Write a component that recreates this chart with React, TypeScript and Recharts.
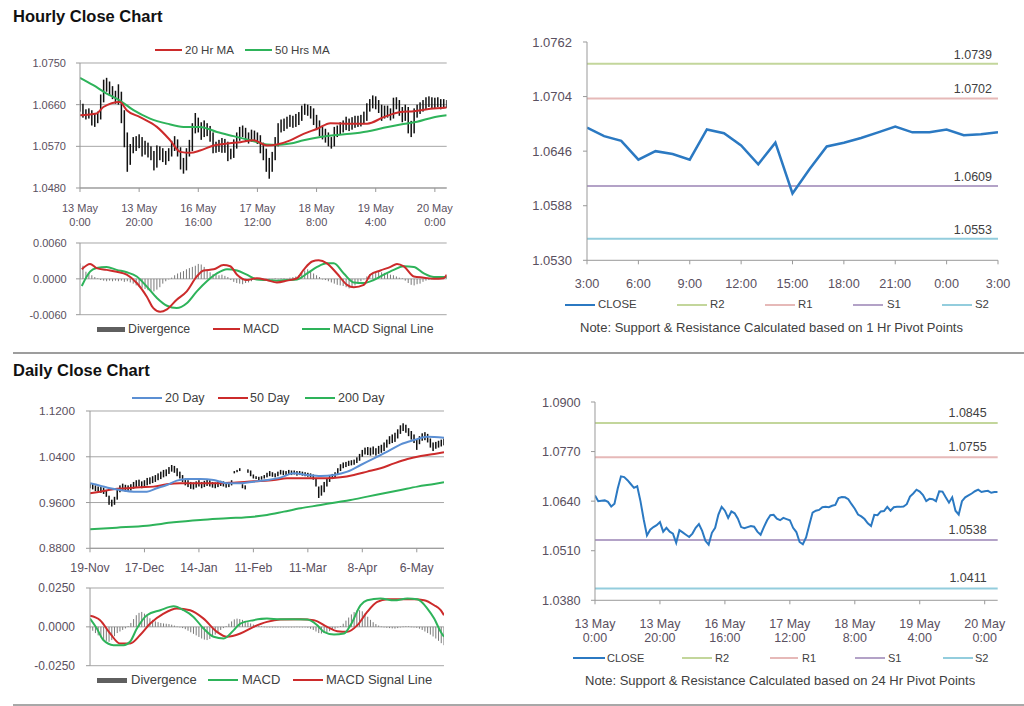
import React from "react";
import { ComposedChart, Line, Bar, XAxis, YAxis, CartesianGrid, ReferenceLine } from "recharts";

// ---------------- DATA ----------------
type Pt = [number, number];

// Hourly chart (13 May 0:00 .. 20 May ~4:00, trading hours)
const hourlyTickPos = [0, 20, 40, 60, 80, 100, 120];
const hourlyTickDay = ["13 May", "13 May", "16 May", "17 May", "18 May", "19 May", "20 May"];
const hourlyTickTime = ["0:00", "20:00", "16:00", "12:00", "8:00", "4:00", "0:00"];
const hourlyYTicks = [1.048, 1.057, 1.066, 1.075];

const hourlyLow = [
  1.0645, 1.0632, 1.0628, 1.063, 1.0615, 1.0612, 1.062, 1.0628, 1.0665, 1.0688,
  1.068, 1.0672, 1.0662, 1.066, 1.062, 1.0568, 1.0515, 1.053, 1.0555, 1.056,
  1.0566, 1.0548, 1.0552, 1.0546, 1.054, 1.0518, 1.0524, 1.054, 1.0536, 1.053,
  1.0538, 1.0548, 1.056, 1.0548, 1.052, 1.0511, 1.0518, 1.0548, 1.056, 1.0598,
  1.06, 1.0584, 1.059, 1.0592, 1.058, 1.0555, 1.0556, 1.0558, 1.0556, 1.0556,
  1.0538, 1.0542, 1.0545, 1.0565, 1.0582, 1.059, 1.058, 1.0576, 1.058, 1.058,
  1.0575, 1.0555, 1.054, 1.0515, 1.05, 1.0515, 1.054, 1.057, 1.06, 1.0603,
  1.0608, 1.0612, 1.061, 1.0612, 1.0616, 1.0625, 1.0638, 1.0636, 1.063, 1.0616,
  1.0605, 1.0592, 1.0585, 1.0578, 1.057, 1.0565, 1.057, 1.059, 1.0595, 1.06,
  1.0605, 1.0603, 1.0606, 1.061, 1.0612, 1.0613, 1.0618, 1.0625, 1.0645, 1.0652,
  1.065, 1.0642, 1.0625, 1.063, 1.0632, 1.0626, 1.063, 1.065, 1.0636, 1.0622,
  1.0625, 1.0598, 1.059, 1.0598, 1.0632, 1.064, 1.0645, 1.065, 1.0655, 1.0652,
  1.0652, 1.0655, 1.065, 1.0652, 1.0653,
];
const hourlyHigh = [
  1.067, 1.0662, 1.065, 1.0652, 1.0648, 1.064, 1.0645, 1.0682, 1.0714, 1.0718,
  1.071, 1.07, 1.069, 1.0704, 1.0688, 1.0648, 1.06, 1.0575, 1.059, 1.0592,
  1.0596, 1.059, 1.0582, 1.0578, 1.057, 1.056, 1.0572, 1.057, 1.0566, 1.056,
  1.0566, 1.0582, 1.0592, 1.0585, 1.0568, 1.0545, 1.0566, 1.0584, 1.062, 1.0642,
  1.0632, 1.0622, 1.0626, 1.062, 1.0614, 1.06, 1.058, 1.0584, 1.0588, 1.0586,
  1.058, 1.0565, 1.0585, 1.06, 1.0612, 1.0615, 1.061, 1.06, 1.0606, 1.0604,
  1.06, 1.0594, 1.0578, 1.0565, 1.0545, 1.0558, 1.059, 1.062, 1.0628, 1.063,
  1.0634, 1.0638, 1.0636, 1.064, 1.0644, 1.0658, 1.0662, 1.066, 1.0657, 1.0652,
  1.0638, 1.0626, 1.0612, 1.0608, 1.06, 1.059, 1.0612, 1.0615, 1.0622, 1.0626,
  1.0634, 1.063, 1.0633, 1.0636, 1.0636, 1.0638, 1.0645, 1.0663, 1.0672, 1.068,
  1.0678, 1.067, 1.066, 1.0658, 1.0658, 1.0652, 1.0675, 1.0676, 1.067, 1.0655,
  1.066, 1.0655, 1.0625, 1.0652, 1.066, 1.0665, 1.067, 1.0676, 1.0678, 1.0676,
  1.0675, 1.0676, 1.0672, 1.0672, 1.067,
];
const ma20Hr: Pt[] = [
  [0, 1.0637], [5.6, 1.0641], [7.9, 1.0655], [13.5, 1.0666], [15.8, 1.0648], [20.3, 1.0633],
  [26, 1.0612], [30.5, 1.0583], [33.9, 1.0558], [37.3, 1.0556], [40.6, 1.0561], [45.2, 1.0572],
  [49.7, 1.0576], [54.2, 1.0579], [58.7, 1.0583], [63.2, 1.0572], [66.6, 1.0574], [71.1, 1.0583],
  [75.6, 1.0597], [80.2, 1.0608], [84.7, 1.062], [91.4, 1.0619], [97.1, 1.0619], [102.7, 1.0633],
  [108.4, 1.0644], [112.9, 1.0646], [118.5, 1.0651], [124, 1.0654],
];
const ma50Hr: Pt[] = [
  [0, 1.0718], [4.5, 1.0702], [9, 1.0684], [13.5, 1.0669], [18.1, 1.0648], [23.7, 1.063],
  [29.4, 1.0619], [35, 1.0612], [40.6, 1.0612], [46.3, 1.0601], [51.9, 1.0592], [57.6, 1.0583],
  [63.2, 1.0574], [66.6, 1.0573], [71.1, 1.0576], [75.6, 1.0583], [81.3, 1.059], [85.8, 1.0594],
  [91.4, 1.0597], [97.1, 1.0602], [102.7, 1.061], [108.4, 1.0617], [114, 1.0623], [119.7, 1.0633],
  [124, 1.0637],
];

// Hourly MACD
const hrMacdYTicks = [-0.006, 0, 0.006];
const hrMacd: Pt[] = [
  [0.6, 0.0016], [3.4, 0.0025], [5.6, 0.0018], [9, 0.0015], [12.4, 0.0012], [15.8, 0.0007],
  [19.2, -0.0007], [22.6, -0.003], [24.8, -0.0049], [27.1, -0.0055], [29.4, -0.0051], [32.7, -0.0035],
  [36.1, -0.0021], [39.5, 0.0004], [41.8, 0.0014], [45.2, 0.0016], [48.5, 0.0023], [50.8, 0.0021],
  [53.1, 0.0007], [56.4, -0.0002], [59.8, 0.0001], [63.2, -0.0002], [66.6, -0.0006], [70, -0.0003],
  [73.4, 0.0001], [75.6, 0.0015], [78.5, 0.0029], [80.7, 0.0031], [83.5, 0.0026], [86.9, 0.0009],
  [90.3, -0.001], [92.6, -0.0014], [96, -0.001], [98.2, 0.0007], [101.6, 0.0014], [105, 0.002],
  [107.2, 0.0025], [109.5, 0.0021], [112.9, 0.0004], [116.3, 0.0002], [119.7, 0.0], [123, 0.0001],
  [124, 0.0007],
];
const hrSignal: Pt[] = [
  [0.6, -0.0012], [3.4, 0.0012], [5.6, 0.0018], [9, 0.002], [12.4, 0.0015], [15.8, 0.0011],
  [19.2, 0.0004], [22.6, -0.0013], [26, -0.0032], [29.4, -0.0045], [32.7, -0.0049], [36.1, -0.0041],
  [39.5, -0.0021], [42.9, -0.0004], [46.3, 0.0009], [49.7, 0.0016], [53.1, 0.0014], [56.4, 0.0007],
  [59.8, -0.0001], [63.2, -0.0002], [66.6, -0.0003], [70, -0.0002], [73.4, -0.0001], [76.8, 0.0009],
  [80.2, 0.002], [83.5, 0.0026], [85.8, 0.0026], [89.2, 0.0009], [92.6, -0.0006], [96, -0.0007],
  [99.3, -0.0002], [102.7, 0.0007], [106.1, 0.0015], [109.5, 0.0021], [112.9, 0.002], [116.3, 0.0009],
  [119.7, 0.0003], [124, 0.0003],
];
const hrDivergence = [
  0.0026, 0.0022, 0.0012, 0.001, 0.0006, 0.0003, 0.0001, -0.0002, -0.0003, -0.0004,
  -0.0003, -0.0004, -0.0003, -0.0004, -0.0003, -0.0005, -0.0004, -0.0006, -0.0008, -0.0011,
  -0.0013, -0.0015, -0.0017, -0.0019, -0.002, -0.0021, -0.0018, -0.0014, -0.0008, -0.0004,
  -0.0001, 0.0002, 0.0006, 0.0009, 0.0011, 0.0013, 0.0016, 0.0018, 0.002, 0.0022,
  0.0025, 0.0024, 0.002, 0.0014, 0.0011, 0.0008, 0.0007, 0.0006, 0.0007, 0.0005,
  0.0003, -0.0002, -0.0005, -0.0007, -0.0008, -0.0009, -0.0007, -0.0006, -0.0004, -0.0002,
  -0.0001, 0.0, -0.0001, 0.0, -0.0001, 0.0, 0.0001, 0.0, 0.0001, 0.0001,
  0.0, 0.0002, 0.0003, 0.0004, 0.0006, 0.001, 0.0014, 0.0016, 0.0012, 0.0009,
  0.0006, 0.0003, 0.0, -0.0002, -0.0004, -0.0006, -0.0008, -0.001, -0.0011, -0.0012,
  -0.0014, -0.0016, -0.0014, -0.0011, -0.0008, -0.0004, 0.0, 0.0004, 0.0008, 0.001,
  0.0011, 0.0012, 0.0011, 0.001, 0.0009, 0.0007, 0.0006, 0.0004, 0.0002, 0.0001,
  -0.0003, -0.0007, -0.001, -0.0011, -0.0009, -0.0008, -0.0005, -0.0003, -0.0002, -0.0001,
  0.0001, 0.0002, 0.0002, 0.0003, 0.0004,
];

// 1 Hr pivot chart
const pivotHourTickPos = [0, 3, 6, 9, 12, 15, 18, 21, 24];
const pivotHourLabels = ["3:00", "6:00", "9:00", "12:00", "15:00", "18:00", "21:00", "0:00", "3:00"];
const pivotHourYTicks = [1.053, 1.0588, 1.0646, 1.0704, 1.0762];
const pivotHourClose = [
  1.0671, 1.0662, 1.0657, 1.0637, 1.0646, 1.0643, 1.0637, 1.0669, 1.0665, 1.0652,
  1.0632, 1.0655, 1.0601, 1.0627, 1.0651, 1.0655, 1.066, 1.0666, 1.0672, 1.0666,
  1.0666, 1.0669, 1.0663, 1.0664, 1.0666,
];
const pivotNames = ["R2", "R1", "S1", "S2"];
const pivot1hValues = [1.0739, 1.0702, 1.0609, 1.0553];
const pivot24hValues = [1.0845, 1.0755, 1.0538, 1.0411];

// Daily chart (19-Nov .. ~20-May)
const dailyTickPos = [0, 20, 40, 60, 80, 100, 120];
const dailyTickLabels = ["19-Nov", "17-Dec", "14-Jan", "11-Feb", "11-Mar", "8-Apr", "6-May"];
const dailyYTicks = [0.88, 0.96, 1.04, 1.12];
const dailyLow = [
  0.985, 0.983, 0.98, 0.979, 0.977, 0.975, 0.97, 0.956, 0.953, 0.956,
  0.965, 0.978, 0.982, 0.979, 0.98, 0.981, 0.984, 0.986, 0.988, 0.985,
  0.987, 0.99, 0.992, 0.994, 0.996, 0.999, 1.001, 1.004, 1.006, 1.01,
  1.014, 1.012, 1.006, 1.002, 0.996, 0.99, 0.987, 0.984, 0.983, 0.986,
  0.988, 0.985, 0.987, 0.989, 0.988, 0.986, 0.985, 0.987, 0.989, 0.988,
  0.986, 0.987, 0.99, 1.011, 1.013, 1.015, 0.985, 0.983, 1.012, 1.006,
  1.002, 1.001, 0.999, 1.0, 1.002, 1.004, 1.006, 1.005, 1.004, 1.006,
  1.009, 1.008, 1.007, 1.009, 1.008, 1.009, 1.007, 1.008, 1.007, 1.006,
  1.005, 1.004, 1.0, 0.988, 0.968, 0.972, 0.978, 0.988, 0.996, 1.001,
  1.004, 1.008, 1.015, 1.02, 1.022, 1.024, 1.025, 1.026, 1.029, 1.033,
  1.04, 1.044, 1.043, 1.042, 1.044, 1.042, 1.045, 1.047, 1.05, 1.056,
  1.062, 1.064, 1.066, 1.072, 1.08, 1.085, 1.082, 1.076, 1.07, 1.064,
  1.052, 1.062, 1.068, 1.069, 1.065, 1.056, 1.05, 1.054, 1.056, 1.058,
  1.06,
];
const dailyHigh = [
  0.994, 0.9925, 0.99, 0.988, 0.987, 0.986, 0.982, 0.972, 0.965, 0.97,
  0.984, 0.99, 0.993, 0.991, 0.99, 0.992, 0.996, 0.999, 1.0, 0.997,
  0.999, 1.003, 1.004, 1.006, 1.008, 1.011, 1.014, 1.017, 1.018, 1.022,
  1.0256, 1.024, 1.02, 1.014, 1.008, 1.002, 0.999, 0.996, 0.995, 0.997,
  0.999, 0.996, 0.998, 1.0, 0.999, 0.996, 0.995, 0.996, 0.998, 0.997,
  0.995, 0.996, 0.999, 1.015, 1.017, 1.02, 0.992, 0.99, 1.018, 1.016,
  1.009, 1.006, 1.005, 1.006, 1.008, 1.012, 1.015, 1.013, 1.011, 1.014,
  1.017, 1.016, 1.015, 1.017, 1.016, 1.016, 1.015, 1.015, 1.014, 1.013,
  1.012, 1.011, 1.009, 1.003, 0.988, 0.99, 0.996, 1.003, 1.008, 1.01,
  1.013, 1.02, 1.027, 1.03, 1.031, 1.033, 1.034, 1.035, 1.039, 1.045,
  1.052, 1.056, 1.057, 1.056, 1.058, 1.055, 1.059, 1.061, 1.065, 1.07,
  1.076, 1.079, 1.082, 1.088, 1.095, 1.0985, 1.096, 1.09, 1.085, 1.079,
  1.07, 1.076, 1.081, 1.083, 1.08, 1.072, 1.065, 1.066, 1.068, 1.07,
  1.072,
];
const ma20Day: Pt[] = [
  [0, 0.9936], [3.7, 0.9895], [7.4, 0.9849], [11, 0.9819], [16, 0.979], [20.9, 0.979],
  [24.5, 0.9849], [28.2, 0.9907], [31.9, 0.9983], [35.6, 1.0012], [40.5, 1.0012], [45.4, 0.9994],
  [50.3, 0.9936], [55.2, 0.9936], [60.1, 0.9965], [65, 0.9994], [69.9, 1.0035], [74.8, 1.0111],
  [79.8, 1.0082], [84.7, 1.0064], [89.6, 1.0082], [94.5, 1.014], [99.4, 1.0256], [104.3, 1.0373],
  [109.2, 1.0489], [114.1, 1.0618], [119, 1.0693], [123.9, 1.0751], [130, 1.0734],
];
const ma50Day: Pt[] = [
  [0, 0.9761], [3.7, 0.979], [8.6, 0.9831], [13.5, 0.9849], [18.4, 0.9866], [23.3, 0.9878],
  [28.2, 0.9919], [33.1, 0.9936], [38, 0.9936], [42.9, 0.9936], [47.9, 0.9936], [52.8, 0.9948],
  [57.7, 0.9965], [62.6, 0.9977], [67.5, 0.9994], [72.4, 1.0023], [77.3, 1.0023], [82.2, 1.0023],
  [87.1, 1.0023], [92, 1.0041], [96.9, 1.0082], [101.8, 1.014], [106.7, 1.0198], [111.7, 1.0285],
  [116.6, 1.0361], [121.5, 1.0414], [126.4, 1.0449], [130, 1.0478],
];
const ma200Day: Pt[] = [
  [0, 0.9132], [9.8, 0.9161], [20.9, 0.9196], [30.7, 0.9254], [40.5, 0.9295], [50.3, 0.9324],
  [60.1, 0.9353], [65, 0.9383], [71.2, 0.9441], [77.3, 0.9499], [84.7, 0.9557], [89.6, 0.9598],
  [95.7, 0.9645], [101.8, 0.9703], [108, 0.9761], [114.1, 0.9819], [120.2, 0.9878], [126.4, 0.9924],
  [130, 0.9953],
];

// Daily MACD
const dayMacdYTicks = [-0.025, 0, 0.025];
const dayMacd: Pt[] = [
  [0, 0.0053], [2.5, -0.0011], [4.9, -0.0085], [8.6, -0.0118], [12.3, -0.0118], [14.7, -0.0096],
  [17.2, -0.0011], [20.9, 0.0075], [25.8, 0.0107], [30.7, 0.0132], [34.4, 0.0107], [38, 0.0064],
  [41.7, -0.0011], [45.4, -0.0064], [49.1, -0.0075], [52.8, -0.0021], [55.2, 0.0021], [60.1, 0.0043],
  [65, 0.0053], [69.9, 0.0049], [74.8, 0.0049], [79.8, 0.0047], [83.4, 0.0011], [85.9, -0.0032],
  [89.6, -0.0049], [93.3, -0.0043], [95.7, 0.0011], [99.4, 0.0139], [101.8, 0.0171], [106.7, 0.0182],
  [111.7, 0.0171], [116.6, 0.0182], [120.2, 0.0177], [123.9, 0.0118], [126.4, 0.0053], [128.8, -0.0032],
  [130, -0.0064],
];
const daySignal: Pt[] = [
  [0, 0.0071], [3.7, 0.0043], [7.4, -0.0043], [11, -0.0107], [14.7, -0.0107], [18.4, -0.0053],
  [22.1, 0.0021], [27, 0.0085], [31.9, 0.0118], [36.8, 0.0107], [41.7, 0.0053], [46.6, -0.0032],
  [50.3, -0.0064], [55.2, -0.0043], [60.1, 0.0], [65, 0.0032], [69.9, 0.0047], [77.3, 0.0049],
  [82.2, 0.0043], [87.1, 0.0], [90.8, -0.0028], [94.5, -0.0032], [98.2, 0.0011], [101.8, 0.0096],
  [105.5, 0.016], [109.2, 0.0177], [114.1, 0.0177], [119, 0.0177], [122.7, 0.0171], [126.4, 0.0139],
  [128.8, 0.0107], [130, 0.0075],
];
const dayDivergence = [
  -0.001, -0.0025, -0.004, -0.0055, -0.0068, -0.008, -0.009, -0.0096, -0.0085, -0.006,
  -0.004, -0.003, -0.002, -0.001, 0.0005, 0.0025, 0.005, 0.0075, 0.009, 0.0096,
  0.0085, 0.007, 0.0055, 0.0045, 0.0035, 0.003, 0.0025, 0.0022, 0.002, 0.0018,
  0.0014, 0.0008, 0.0002, -0.0003, -0.0008, -0.0015, -0.0025, -0.0035, -0.0045, -0.0055,
  -0.0065, -0.0075, -0.0082, -0.0085, -0.0078, -0.0065, -0.005, -0.0035, -0.002, -0.0008,
  0.0005, 0.002, 0.0035, 0.0048, 0.0053, 0.005, 0.0045, 0.0038, 0.003, 0.0022,
  0.0015, 0.001, 0.0006, 0.0003, 0.0001, -0.0002, -0.0003, -0.0002, -0.0003, -0.0002,
  -0.0001, -0.0002, -0.0001, 0.0, -0.0002, -0.0001, 0.0001, 0.0, -0.0001, -0.0003,
  -0.0006, -0.0012, -0.002, -0.003, -0.004, -0.0043, -0.004, -0.0035, -0.0028, -0.002,
  -0.0012, -0.0005, 0.0005, 0.002, 0.004, 0.006, 0.008, 0.0095, 0.0105, 0.0107,
  0.01, 0.0085, 0.0065, 0.0045, 0.003, 0.0018, 0.0008, 0.0002, -0.0003, -0.0006,
  -0.0008, -0.001, -0.0011, -0.0008, -0.0004, 0.0002, 0.0004, 0.0003, 0.0001, -0.0002,
  -0.0006, -0.0012, -0.002, -0.003, -0.004, -0.005, -0.0062, -0.0075, -0.009, -0.0105,
  -0.0118,
];

// 24 Hr pivot chart (hourly closes)
const close24YTicks = [1.038, 1.051, 1.064, 1.077, 1.09];
const close24 = [
  1.0655, 1.064, 1.0641, 1.0642, 1.0638, 1.0626, 1.0633, 1.0673, 1.0705, 1.0703,
  1.0695, 1.0685, 1.0675, 1.0679, 1.064, 1.0592, 1.055, 1.0565, 1.0572, 1.0577,
  1.0585, 1.056, 1.057, 1.056, 1.0555, 1.0531, 1.0564, 1.0558, 1.0552, 1.0546,
  1.0555, 1.057, 1.058, 1.0562, 1.0536, 1.0526, 1.0557, 1.057, 1.0605, 1.0625,
  1.0615, 1.0596, 1.0613, 1.0608, 1.0594, 1.0572, 1.0569, 1.0572, 1.0575, 1.0573,
  1.056, 1.0552, 1.0572, 1.059, 1.0603, 1.0604, 1.0594, 1.059, 1.0596, 1.0593,
  1.059, 1.057, 1.0559, 1.0533, 1.0527, 1.0545, 1.0578, 1.061, 1.0615, 1.0617,
  1.0624, 1.0625, 1.0624, 1.0628, 1.063, 1.0648, 1.0651, 1.065, 1.0645, 1.0632,
  1.062, 1.0605, 1.06, 1.0593, 1.0582, 1.0575, 1.0604, 1.0603, 1.0613, 1.0614,
  1.0625, 1.0615, 1.0624, 1.0625, 1.0625, 1.0626, 1.0632, 1.0652, 1.066, 1.067,
  1.0665, 1.0656, 1.064, 1.0646, 1.0645, 1.064, 1.0666, 1.0665, 1.065, 1.0636,
  1.065, 1.0615, 1.0605, 1.064, 1.065, 1.0655, 1.066, 1.0666, 1.067, 1.0664,
  1.0666, 1.0667, 1.0662, 1.0664, 1.0664,
];

// ---------------- STYLE ----------------
const FONT = "'Liberation Sans', Arial, Helvetica, sans-serif";
const TICK = "#5a5060";
const TXT = "#404040";
const AXIS = "#999999";
const GRID = "#a6a6a6";
const RED = "#cc2b2b";
const GREEN = "#2eb35a";
const BLUE20 = "#5b8fd3";
const CLOSE_BLUE = "#2b79c2";
const HIST = "#8a8a8a";
const PIVOT_COLORS = ["#c3d69b", "#e6b9b8", "#b3a2c7", "#93cddd"];

const toPts = (arr: Pt[]) => arr.map(([x, v]) => ({ x, v }));
const f4 = (v: number) => v.toFixed(4);

const PT = 12, PB = 12, PR = 25;
interface Box { l: number; t: number; r: number; b: number; yW: number; xH: number }
function geom(p: Box) {
  return {
    left: p.l - p.yW,
    top: p.t - PT,
    width: p.r - p.l + p.yW + PR,
    height: p.b - p.t + PT + p.xH + PB,
    margin: { top: PT, right: PR, bottom: PB, left: 0 },
    axisY: PT + (p.b - p.t),
  };
}

// thin vertical stick drawn at the centre of the bar slot computed by Recharts
const stickShape = (w: number, color: string) => (props: any) => {
  const { x, y, width, height } = props;
  if ([x, y, width, height].some((n) => typeof n !== "number" || isNaN(n))) return <g />;
  const top = Math.min(y, y + height);
  const h = Math.max(Math.abs(height), 0.6);
  return <rect x={x + width / 2 - w / 2} y={top} width={w} height={h} fill={color} />;
};

const tickLines = (pos: number[], lines: string[][], axisY: number, fs: number, offs: number[]) =>
  (props: any) => {
    const i = pos.indexOf(props.payload?.value);
    if (i < 0) return <g />;
    return (
      <text textAnchor="middle" fontSize={fs} fill={TICK} fontFamily={FONT}>
        {lines.map((ln, k) => (
          <tspan key={k} x={props.x} y={axisY + offs[k]}>{ln[i]}</tspan>
        ))}
      </text>
    );
  };

const pivotLabel = (text: string, dx: number, dy: number, fs: number) => (props: any) => {
  const vb = props?.viewBox;
  if (!vb) return <g />;
  return (
    <text x={vb.x + vb.width - dx} y={vb.y - dy} textAnchor="end" fontSize={fs} fill={TXT} fontFamily={FONT}>
      {text}
    </text>
  );
};

interface LegItem { kind: "line" | "bar"; color: string; x1: number; x2: number; tx: number; text: string }
function HtmlLegend({ items, y, fs }: { items: LegItem[]; y: number; fs: number }) {
  return (
    <>
      {items.map((it) => {
        const h = it.kind === "bar" ? 5 : 2;
        return (
          <React.Fragment key={it.text}>
            <div style={{ position: "absolute", left: it.x1, top: y - h / 2, width: it.x2 - it.x1, height: h, background: it.color }} />
            <div style={{ position: "absolute", left: it.tx, top: y - fs * 0.59, fontSize: fs, lineHeight: fs * 1.2 + "px", color: TXT, whiteSpace: "nowrap" }}>
              {it.text}
            </div>
          </React.Fragment>
        );
      })}
    </>
  );
}

const yTickStyle = (fs: number) => ({ fontSize: fs, fill: TICK, fontFamily: FONT });

export default function App() {
  const hourlyBars = hourlyHigh.map((h, i) => ({ x: i, hl: [hourlyLow[i], h] }));
  const hrHist = hrDivergence.map((d, i) => ({ x: i, d }));
  const pivotHour = pivotHourClose.map((v, i) => ({ x: i, v }));
  const dailyBars = dailyHigh.map((h, i) => ({ x: i, hl: [dailyLow[i], h] }));
  const dayHist = dayDivergence.map((d, i) => ({ x: i, d }));
  const close24Pts = close24.map((v, i) => ({ x: i, v }));

  const g1 = geom({ l: 80, t: 62.7, r: 446.7, b: 187.7, yW: 80, xH: 50 });
  const g2 = geom({ l: 80, t: 243.3, r: 446.7, b: 315, yW: 80, xH: 0 });
  const g3 = geom({ l: 586.7, t: 41.7, r: 997.7, b: 260, yW: 90, xH: 40 });
  const g4 = geom({ l: 90, t: 411, r: 444, b: 548.3, yW: 90, xH: 35 });
  const g5 = geom({ l: 90, t: 588, r: 444, b: 665.7, yW: 90, xH: 0 });
  const g6 = geom({ l: 595, t: 401.7, r: 997.7, b: 600, yW: 90, xH: 55 });

  const pos = (g: any): React.CSSProperties => ({ position: "absolute", left: g.left, top: g.top });
  const axisProps = { axisLine: { stroke: AXIS }, tickLine: { stroke: AXIS }, tickSize: 4 };

  return (
    <div style={{ position: "absolute", left: 0, top: 0, width: 1024, height: 706, background: "#fff", fontFamily: FONT, overflow: "hidden" }}>
      <div style={{ position: "absolute", left: 13, top: 7.7, fontSize: 16.5, lineHeight: "16.5px", fontWeight: "bold", color: "#111" }}>Hourly Close Chart</div>
      <div style={{ position: "absolute", left: 13, top: 361.7, fontSize: 16.5, lineHeight: "16.5px", fontWeight: "bold", color: "#111" }}>Daily Close Chart</div>
      <div style={{ position: "absolute", left: 13, top: 352, width: 1011, height: 1.5, background: "#9d9d9d" }} />
      <div style={{ position: "absolute", left: 13, top: 703.5, width: 1011, height: 2, background: "#a8a8a8" }} />

      {/* Chart 1: hourly bars + MAs */}
      <HtmlLegend y={50} fs={11.6} items={[
        { kind: "line", color: RED, x1: 155, x2: 182, tx: 185, text: "20 Hr MA" },
        { kind: "line", color: GREEN, x1: 245, x2: 272, tx: 275, text: "50 Hrs MA" },
      ]} />
      <div style={pos(g1)}>
        <ComposedChart width={g1.width} height={g1.height} margin={g1.margin} data={hourlyBars}>
          <CartesianGrid vertical={false} stroke={GRID} />
          <XAxis dataKey="x" type="number" domain={[0, 124]} allowDataOverflow ticks={hourlyTickPos} interval={0} height={50} {...axisProps}
            tick={tickLines(hourlyTickPos, [hourlyTickDay, hourlyTickTime], g1.axisY, 11, [24.3, 37.9])} />
          <YAxis type="number" domain={[1.048, 1.075]} allowDataOverflow ticks={hourlyYTicks} interval={0} width={80} tickMargin={10} {...axisProps}
            tick={yTickStyle(11)} tickFormatter={f4} />
          <Bar dataKey="hl" fill="#000" barSize={2} shape={stickShape(1.5, "#111")} isAnimationActive={false} />
          <Line data={toPts(ma50Hr)} dataKey="v" type="monotone" stroke={GREEN} strokeWidth={2} dot={false} isAnimationActive={false} />
          <Line data={toPts(ma20Hr)} dataKey="v" type="monotone" stroke={RED} strokeWidth={2} dot={false} isAnimationActive={false} />
        </ComposedChart>
      </div>

      {/* Chart 2: hourly MACD */}
      <div style={pos(g2)}>
        <ComposedChart width={g2.width} height={g2.height} margin={g2.margin} data={hrHist}>
          <CartesianGrid vertical={false} stroke={GRID} />
          <XAxis dataKey="x" type="number" domain={[0, 124]} allowDataOverflow ticks={hourlyTickPos} hide />
          <YAxis type="number" domain={[-0.006, 0.006]} allowDataOverflow ticks={hrMacdYTicks} interval={0} width={80} tickMargin={9.3} {...axisProps}
            tick={yTickStyle(11)} tickFormatter={f4} />
          <Bar dataKey="d" fill={HIST} barSize={2} shape={stickShape(1, "#7a7a7a")} isAnimationActive={false} />
          <Line data={toPts(hrSignal)} dataKey="v" type="monotone" stroke={GREEN} strokeWidth={2} dot={false} isAnimationActive={false} />
          <Line data={toPts(hrMacd)} dataKey="v" type="monotone" stroke={RED} strokeWidth={2} dot={false} isAnimationActive={false} />
        </ComposedChart>
      </div>
      <HtmlLegend y={329} fs={12.3} items={[
        { kind: "bar", color: "#5f5f5f", x1: 97, x2: 125, tx: 128, text: "Divergence" },
        { kind: "line", color: RED, x1: 213, x2: 240, tx: 243, text: "MACD" },
        { kind: "line", color: GREEN, x1: 302, x2: 330, tx: 333, text: "MACD Signal Line" },
      ]} />

      {/* Chart 3: 1 Hr pivot */}
      <div style={pos(g3)}>
        <ComposedChart width={g3.width} height={g3.height} margin={g3.margin} data={pivotHour}>
          <XAxis dataKey="x" type="number" domain={[0, 24]} allowDataOverflow ticks={pivotHourTickPos} interval={0} height={40} {...axisProps}
            tick={tickLines(pivotHourTickPos, [pivotHourLabels], g3.axisY, 12.7, [27.8])} />
          <YAxis type="number" domain={[1.053, 1.0762]} allowDataOverflow ticks={pivotHourYTicks} interval={0} width={90} tickMargin={11} {...axisProps}
            tick={yTickStyle(13)} tickFormatter={f4} />
          {pivot1hValues.map((v, i) => (
            <ReferenceLine key={pivotNames[i]} y={v} stroke={PIVOT_COLORS[i]} strokeWidth={2} label={pivotLabel(f4(v), 6, 5, 12.5)} />
          ))}
          <Line dataKey="v" type="linear" stroke={CLOSE_BLUE} strokeWidth={2.5} dot={false} isAnimationActive={false} />
        </ComposedChart>
      </div>
      <HtmlLegend y={305} fs={11.4} items={[
        { kind: "line", color: CLOSE_BLUE, x1: 565, x2: 595, tx: 598, text: "CLOSE" },
        { kind: "line", color: PIVOT_COLORS[0], x1: 677, x2: 707, tx: 710, text: "R2" },
        { kind: "line", color: PIVOT_COLORS[1], x1: 765, x2: 795, tx: 798, text: "R1" },
        { kind: "line", color: PIVOT_COLORS[2], x1: 853, x2: 883, tx: 887, text: "S1" },
        { kind: "line", color: PIVOT_COLORS[3], x1: 942, x2: 972, tx: 975, text: "S2" },
      ]} />
      <div style={{ position: "absolute", left: 580, top: 327.7 - 13 * 0.59, fontSize: 13, lineHeight: 13 * 1.2 + "px", color: TXT, whiteSpace: "nowrap" }}>
        Note: Support &amp; Resistance Calculated based on 1 Hr Pivot Points
      </div>

      {/* Chart 4: daily bars + MAs */}
      <HtmlLegend y={398.3} fs={12.5} items={[
        { kind: "line", color: BLUE20, x1: 131.7, x2: 161.7, tx: 165, text: "20 Day" },
        { kind: "line", color: RED, x1: 218, x2: 248, tx: 250, text: "50 Day" },
        { kind: "line", color: GREEN, x1: 305, x2: 335, tx: 338, text: "200 Day" },
      ]} />
      <div style={pos(g4)}>
        <ComposedChart width={g4.width} height={g4.height} margin={g4.margin} data={dailyBars}>
          <CartesianGrid vertical={false} stroke={GRID} />
          <XAxis dataKey="x" type="number" domain={[0, 130]} allowDataOverflow ticks={dailyTickPos} interval={0} height={35} {...axisProps}
            tick={tickLines(dailyTickPos, [dailyTickLabels], g4.axisY, 12.2, [24.2])} />
          <YAxis type="number" domain={[0.88, 1.12]} allowDataOverflow ticks={dailyYTicks} interval={0} width={90} tickMargin={11} {...axisProps}
            tick={yTickStyle(11.8)} tickFormatter={f4} />
          <Bar dataKey="hl" fill="#000" barSize={2} shape={stickShape(1.5, "#111")} isAnimationActive={false} />
          <Line data={toPts(ma200Day)} dataKey="v" type="monotone" stroke={GREEN} strokeWidth={2} dot={false} isAnimationActive={false} />
          <Line data={toPts(ma50Day)} dataKey="v" type="monotone" stroke={RED} strokeWidth={2} dot={false} isAnimationActive={false} />
          <Line data={toPts(ma20Day)} dataKey="v" type="monotone" stroke={BLUE20} strokeWidth={2} dot={false} isAnimationActive={false} />
        </ComposedChart>
      </div>

      {/* Chart 5: daily MACD */}
      <div style={pos(g5)}>
        <ComposedChart width={g5.width} height={g5.height} margin={g5.margin} data={dayHist}>
          <CartesianGrid vertical={false} stroke={GRID} />
          <XAxis dataKey="x" type="number" domain={[0, 130]} allowDataOverflow ticks={dailyTickPos} hide />
          <YAxis type="number" domain={[-0.025, 0.025]} allowDataOverflow ticks={dayMacdYTicks} interval={0} width={90} tickMargin={11} {...axisProps}
            tick={yTickStyle(12)} tickFormatter={f4} />
          <Bar dataKey="d" fill={HIST} barSize={2} shape={stickShape(1, "#7a7a7a")} isAnimationActive={false} />
          <Line data={toPts(daySignal)} dataKey="v" type="monotone" stroke={RED} strokeWidth={2} dot={false} isAnimationActive={false} />
          <Line data={toPts(dayMacd)} dataKey="v" type="monotone" stroke={GREEN} strokeWidth={2} dot={false} isAnimationActive={false} />
        </ComposedChart>
      </div>
      <HtmlLegend y={680} fs={13} items={[
        { kind: "bar", color: "#5f5f5f", x1: 97, x2: 127, tx: 131, text: "Divergence" },
        { kind: "line", color: GREEN, x1: 208, x2: 238, tx: 242, text: "MACD" },
        { kind: "line", color: RED, x1: 293, x2: 323, tx: 326, text: "MACD Signal Line" },
      ]} />

      {/* Chart 6: 24 Hr pivot */}
      <div style={pos(g6)}>
        <ComposedChart width={g6.width} height={g6.height} margin={g6.margin} data={close24Pts}>
          <XAxis dataKey="x" type="number" domain={[0, 124]} allowDataOverflow ticks={hourlyTickPos} interval={0} height={55} {...axisProps}
            tick={tickLines(hourlyTickPos, [hourlyTickDay, hourlyTickTime], g6.axisY, 12.5, [27.7, 42])} />
          <YAxis type="number" domain={[1.038, 1.09]} allowDataOverflow ticks={close24YTicks} interval={0} width={90} tickMargin={10.3} {...axisProps}
            tick={yTickStyle(12.7)} tickFormatter={f4} />
          {pivot24hValues.map((v, i) => (
            <ReferenceLine key={pivotNames[i]} y={v} stroke={PIVOT_COLORS[i]} strokeWidth={2} label={pivotLabel(f4(v), 11, 6, 12.5)} />
          ))}
          <Line dataKey="v" type="linear" stroke={CLOSE_BLUE} strokeWidth={2} dot={false} isAnimationActive={false} />
        </ComposedChart>
      </div>
      <HtmlLegend y={658.3} fs={11} items={[
        { kind: "line", color: CLOSE_BLUE, x1: 573, x2: 605, tx: 607, text: "CLOSE" },
        { kind: "line", color: PIVOT_COLORS[0], x1: 682, x2: 712, tx: 715, text: "R2" },
        { kind: "line", color: PIVOT_COLORS[1], x1: 770, x2: 798, tx: 802, text: "R1" },
        { kind: "line", color: PIVOT_COLORS[2], x1: 855, x2: 885, tx: 888, text: "S1" },
        { kind: "line", color: PIVOT_COLORS[3], x1: 943, x2: 973, tx: 975, text: "S2" },
      ]} />
      <div style={{ position: "absolute", left: 585, top: 681 - 13 * 0.59, fontSize: 13, lineHeight: 13 * 1.2 + "px", color: TXT, whiteSpace: "nowrap" }}>
        Note: Support &amp; Resistance Calculated based on 24 Hr Pivot Points
      </div>
    </div>
  );
}
